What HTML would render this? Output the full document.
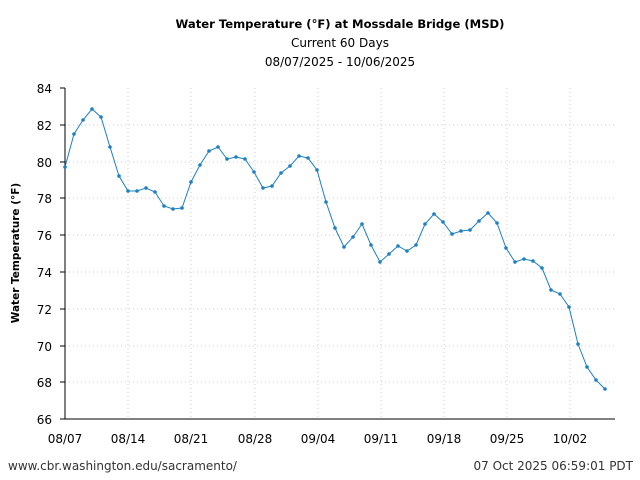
<!DOCTYPE html>
<html><head><meta charset="utf-8"><style>body{margin:0;background:#fff}svg{display:block}</style></head>
<body>
<svg width="640" height="480" xmlns="http://www.w3.org/2000/svg" font-family="'DejaVu Sans', 'Liberation Sans', sans-serif">
<rect width="640" height="480" fill="#fff"/>
<text x="340" y="28" text-anchor="middle" font-size="11.6" font-weight="bold">Water Temperature (°F) at Mossdale Bridge (MSD)</text>
<text x="340" y="47" text-anchor="middle" font-size="12">Current 60 Days</text>
<text x="340" y="66" text-anchor="middle" font-size="12">08/07/2025 - 10/06/2025</text>
<g stroke="#ccc" stroke-dasharray="1,3" stroke-width="1">
<line x1="65" x2="615" y1="125" y2="125"/><line x1="65" x2="615" y1="162" y2="162"/><line x1="65" x2="615" y1="198" y2="198"/><line x1="65" x2="615" y1="235" y2="235"/><line x1="65" x2="615" y1="272" y2="272"/><line x1="65" x2="615" y1="309" y2="309"/><line x1="65" x2="615" y1="346" y2="346"/><line x1="65" x2="615" y1="382" y2="382"/>
<line y1="88" y2="419" x1="128" x2="128"/><line y1="88" y2="419" x1="191" x2="191"/><line y1="88" y2="419" x1="255" x2="255"/><line y1="88" y2="419" x1="318" x2="318"/><line y1="88" y2="419" x1="381" x2="381"/><line y1="88" y2="419" x1="444" x2="444"/><line y1="88" y2="419" x1="507" x2="507"/><line y1="88" y2="419" x1="570" x2="570"/>
</g>
<line x1="65" y1="88" x2="65" y2="419" stroke="#000"/>
<line x1="65" y1="419" x2="615" y2="419" stroke="#000"/>
<g font-size="12" text-anchor="end">
<text x="52" y="93">84</text><text x="52" y="130">82</text><text x="52" y="167">80</text><text x="52" y="203">78</text><text x="52" y="240">76</text><text x="52" y="277">74</text><text x="52" y="314">72</text><text x="52" y="351">70</text><text x="52" y="387">68</text><text x="52" y="424">66</text>
</g>
<g stroke="#000"><line x1="60" x2="65" y1="88" y2="88"/><line x1="60" x2="65" y1="125" y2="125"/><line x1="60" x2="65" y1="162" y2="162"/><line x1="60" x2="65" y1="198" y2="198"/><line x1="60" x2="65" y1="235" y2="235"/><line x1="60" x2="65" y1="272" y2="272"/><line x1="60" x2="65" y1="309" y2="309"/><line x1="60" x2="65" y1="346" y2="346"/><line x1="60" x2="65" y1="382" y2="382"/><line x1="60" x2="65" y1="419" y2="419"/></g>
<g font-size="12" text-anchor="middle">
<text x="65" y="443">08/07</text><text x="128" y="443">08/14</text><text x="191" y="443">08/21</text><text x="255" y="443">08/28</text><text x="318" y="443">09/04</text><text x="381" y="443">09/11</text><text x="444" y="443">09/18</text><text x="507" y="443">09/25</text><text x="570" y="443">10/02</text>
</g>
<text transform="translate(19,253) rotate(-90)" text-anchor="middle" font-size="10.5" font-weight="bold">Water Temperature (°F)</text>
<polyline fill="none" stroke="#1f80c0" stroke-width="1" points="65,167 74,134 83,120 92,109 101,117 110,147 119,176 128,191 137,191 146,188 155,192 164,206 173,209 182,208 191,182 200,165 209,151 218,147 227,159 236,157 245,159 254,172 263,188 272,186 281,173 290,166 299,156 308,158 317,170 326,202 335,228 344,247 353,237 362,224 371,245 380,262 389,254 398,246 407,251 416,245 425,224 434,214 443,222 452,234 461,231 470,230 479,221 488,213 497,223 506,248 515,262 524,259 533,261 542,268 551,290 560,294 569,307 578,344 587,367 596,380 605,389"/>
<g fill="#1f80c0" id="pts"></g>
<text x="8" y="470" font-size="12" fill="#333">www.cbr.washington.edu/sacramento/</text>
<text x="633" y="470" font-size="12" fill="#333" text-anchor="end">07 Oct 2025 06:59:01 PDT</text>
</svg>
<script>
var p=document.querySelector('polyline').getAttribute('points').trim().split(/\s+/),g=document.getElementById('pts');
p.forEach(function(s){var a=s.split(',');var c=document.createElementNS('http://www.w3.org/2000/svg','circle');c.setAttribute('cx',a[0]);c.setAttribute('cy',a[1]);c.setAttribute('r','1.8');g.appendChild(c);});
</script>
</body></html>
